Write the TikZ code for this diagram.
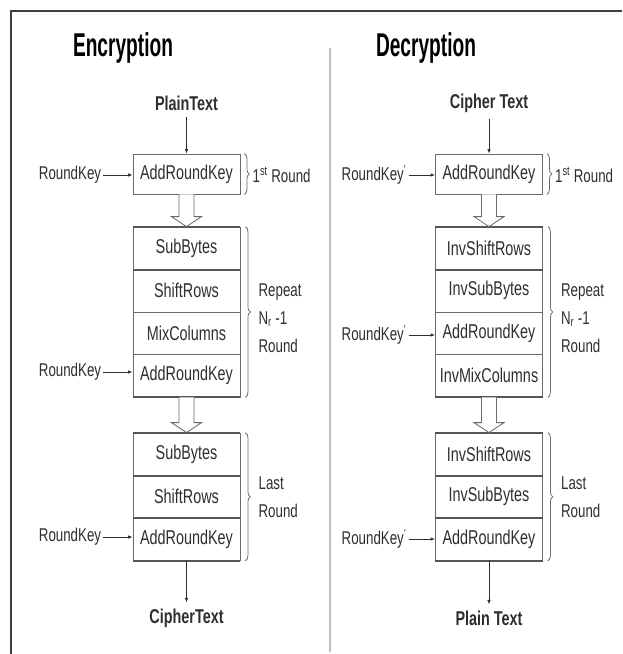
\documentclass[tikz,border=0pt]{standalone}
\usepackage{fontspec}
\usepackage{graphicx}
\setmainfont{Liberation Sans}
\usetikzlibrary{calc,arrows.meta,decorations.pathreplacing}
\newcommand{\nx}[1]{\scalebox{0.72}[1]{#1}}
\newcommand{\tx}[1]{\scalebox{0.58}[1]{#1}}
\definecolor{ink}{HTML}{2E2E2E}
\definecolor{boxc}{HTML}{6A6A6A}
\tikzset{
  rowbox/.style={draw=boxc, line width=0.8pt, minimum width=107pt, minimum height=42.5pt, inner sep=0pt, text=ink, font=\fontsize{20}{22}\selectfont},
  firstbox/.style={rowbox, minimum height=40pt},
  lbl/.style={text=ink, font=\fontsize{18.5}{28}\selectfont, inner sep=2pt},
  iot/.style={text=ink, font=\fontsize{20}{22}\selectfont\bfseries, inner sep=6pt},
  ttl/.style={text=black, font=\fontsize{33}{36}\selectfont\bfseries},
  flow/.style={draw=ink, line width=0.8pt, -{Latex[length=4.5pt,width=3.5pt]}},
  harrow/.style={draw=boxc, line width=0.8pt, fill=white},
  thick sep/.style={draw=boxc!80!black, line width=2pt},
  brc/.style={draw=boxc, line width=0.8pt, decorate, decoration={brace, amplitude=5pt}},
}
\newcommand{\hollowarrow}[2]{%
  \path (#1.south) coordinate (hA) (#2.north) coordinate (hB);
  \draw[harrow] ($(hA)+(-7.5,0)$) -- ($(hB)+(-7.5,-10)$) -- ($(hB)+(-15,-10)$) -- (hB) -- ($(hB)+(15,-10)$) -- ($(hB)+(7.5,-10)$) -- ($(hA)+(7.5,0)$);
}
\begin{document}
\begin{tikzpicture}[x=1pt,y=-1pt]
\useasboundingbox (0,0) rectangle (622,654);
% frame and divider
\draw[line width=1.6pt, black!75] (11,654) -- (11,11) -- (622,11);
\draw[line width=2pt, black!25] (330,48) -- (330,652);

% ================= Encryption =================
\node[ttl] (etitle) at (123,48) {\tx{Encryption}};
\node[iot] (ein) at (186.5,103) {\nx{PlainText}};
\node[firstbox] (e1) at (186.5,174) {\nx{AddRoundKey}};
\node[rowbox] (e2) at (186.5,248.25) {\nx{SubBytes}};
\node[rowbox] (e3) at (186.5,290.75) {\nx{ShiftRows}};
\node[rowbox] (e4) at (186.5,333.25) {\nx{MixColumns}};
\node[rowbox] (e5) at (186.5,375.75) {\nx{AddRoundKey}};
\node[rowbox] (e6) at (186.5,454.25) {\nx{SubBytes}};
\node[rowbox] (e7) at (186.5,496.75) {\nx{ShiftRows}};
\node[rowbox] (e8) at (186.5,539.25) {\nx{AddRoundKey}};
\node[iot] (eout) at (186.5,618) {\nx{CipherText}};
\draw[thick sep] (e2.north west) -- (e2.north east);
\draw[thick sep] (e2.south west) -- (e2.south east);
\draw[thick sep] (e5.south west) -- (e5.south east);
\draw[thick sep] (e6.north west) -- (e6.north east);
\draw[thick sep] (e6.south west) -- (e6.south east);
\draw[thick sep] (e7.south west) -- (e7.south east);
\draw[thick sep] (e8.south west) -- (e8.south east);

\node[lbl] (ek1) at (70,175) {\nx{RoundKey}};
\node[lbl] (ek2) at (70,372) {\nx{RoundKey}};
\node[lbl] (ek3) at (70,537) {\nx{RoundKey}};
\draw[flow] (ek1.east) -- (ek1.east -| e1.west);
\draw[flow] (ek2.east) -- (ek2.east -| e5.west);
\draw[flow] (ek3.east) -- (ek3.east -| e8.west);
\draw[flow] (ein.south) -- (e1.north);
\draw[flow] (e8.south) -- (eout.north);
\hollowarrow{e1}{e2}
\hollowarrow{e5}{e6}

\draw[brc] ($(e1.north east)+(4,0)$) -- ($(e1.south east)+(4,0)$) coordinate[midway] (eb1);
\draw[brc] ($(e2.north east)+(5,0)$) -- ($(e5.south east)+(5,0)$) coordinate[midway] (eb2);
\draw[brc] ($(e6.north east)+(5,0)$) -- ($(e8.south east)+(5,0)$) coordinate[midway] (eb3);
\node[lbl, anchor=west] (el1) at ($(eb1)+(6,1)$) {\nx{1\textsuperscript{st} Round}};
\node[lbl, anchor=west, align=left] (el2) at ($(eb2)+(11,6)$) {\nx{Repeat}\\\nx{N\textsubscript{r} -1}\\\nx{Round}};
\node[lbl, anchor=west, align=left] (el3) at ($(eb3)+(11,0)$) {\nx{Last}\\\nx{Round}};

% ================= Decryption =================
\node[ttl] (dtitle) at (426,48) {\tx{Decryption}};
\node[iot] (din) at (489,103) {\nx{Cipher Text}};
\node[firstbox] (d1) at (489,174) {\nx{AddRoundKey}};
\node[rowbox] (d2) at (489,248.25) {\nx{InvShiftRows}};
\node[rowbox] (d3) at (489,290.75) {\nx{InvSubBytes}};
\node[rowbox] (d4) at (489,333.25) {\nx{AddRoundKey}};
\node[rowbox] (d5) at (489,375.75) {\nx{InvMixColumns}};
\node[rowbox] (d6) at (489,454.25) {\nx{InvShiftRows}};
\node[rowbox] (d7) at (489,496.75) {\nx{InvSubBytes}};
\node[rowbox] (d8) at (489,539.25) {\nx{AddRoundKey}};
\node[iot] (dout) at (489,618) {\nx{Plain Text}};
\draw[thick sep] (d2.north west) -- (d2.north east);
\draw[thick sep] (d2.south west) -- (d2.south east);
\draw[thick sep] (d5.south west) -- (d5.south east);
\draw[thick sep] (d6.north west) -- (d6.north east);
\draw[thick sep] (d6.south west) -- (d6.south east);
\draw[thick sep] (d7.south west) -- (d7.south east);
\draw[thick sep] (d8.south west) -- (d8.south east);

\node[lbl] (dk1) at (374,175) {\nx{RoundKey\textsuperscript{'}}};
\node[lbl] (dk2) at (374,335) {\nx{RoundKey\textsuperscript{'}}};
\node[lbl] (dk3) at (374,539) {\nx{RoundKey\textsuperscript{'}}};
\draw[flow] (dk1.east) -- (dk1.east -| d1.west);
\draw[flow] (dk2.east) -- (dk2.east -| d4.west);
\draw[flow] (dk3.east) -- (dk3.east -| d8.west);
\draw[flow] (din.south) -- (d1.north);
\draw[flow] (d8.south) -- (dout.north);
\hollowarrow{d1}{d2}
\hollowarrow{d5}{d6}

\draw[brc] ($(d1.north east)+(4,0)$) -- ($(d1.south east)+(4,0)$) coordinate[midway] (db1);
\draw[brc] ($(d2.north east)+(5,0)$) -- ($(d5.south east)+(5,0)$) coordinate[midway] (db2);
\draw[brc] ($(d6.north east)+(5,0)$) -- ($(d8.south east)+(5,0)$) coordinate[midway] (db3);
\node[lbl, anchor=west] (dl1) at ($(db1)+(6,1)$) {\nx{1\textsuperscript{st} Round}};
\node[lbl, anchor=west, align=left] (dl2) at ($(db2)+(11,6)$) {\nx{Repeat}\\\nx{N\textsubscript{r} -1}\\\nx{Round}};
\node[lbl, anchor=west, align=left] (dl3) at ($(db3)+(11,0)$) {\nx{Last}\\\nx{Round}};
\end{tikzpicture}
\end{document}
